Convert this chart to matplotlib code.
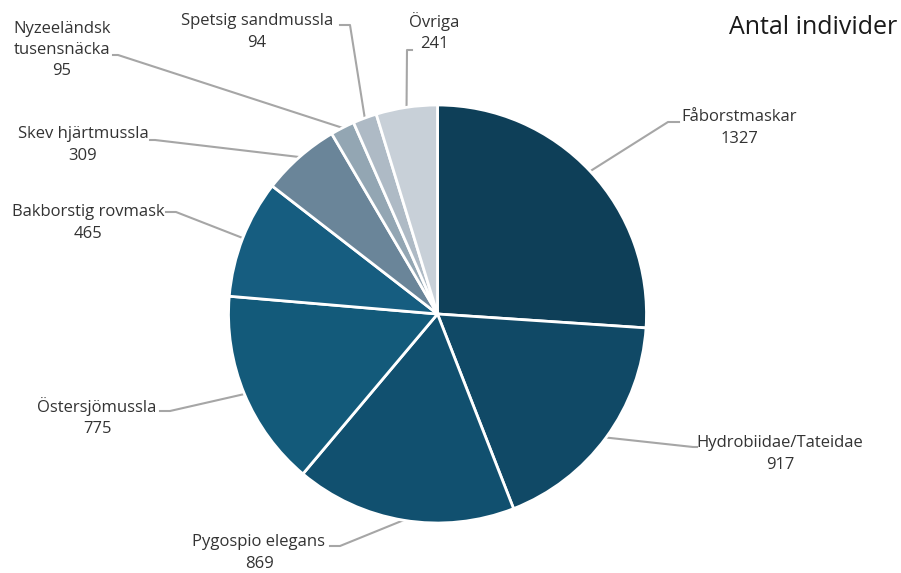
import numpy as np
import matplotlib.pyplot as plt

# data
species = ["Fåborstmaskar", "Hydrobiidae/Tateidae", "Pygospio elegans", "Östersjömussla",
           "Bakborstig rovmask", "Skev hjärtmussla", "Nyzeeländsk\ntusensnäcka",
           "Spetsig sandmussla", "Övriga"]
counts = [1327, 917, 869, 775, 465, 309, 95, 94, 241]
colors = ["#0E3F58", "#104966", "#11506F", "#135A7A", "#165D80",
          "#6A8599", "#93A6B3", "#AEBAC5", "#C8D0D8"]

W, H = 901, 573
cx, cy, R = 437.5, 314, 209

# label layout in pixels: text centre, elbow point, end point of leader
label_pos = [(739, 128), (780, 454), (259, 553), (97, 417), (88, 223),
             (83, 145), (62, 50), (257, 32), (434, 32)]
elbows = [(668, 122), (693, 447), (340, 546), (170, 411), (176, 212),
          (155, 140), (118, 55), (350, 25), (407, 50)]
ends = [(679, 122), (697, 447), (330, 546), (160, 411), (166, 212),
        (150, 140), (113, 55), (340, 25), (412, 50)]

plt.rcParams['font.family'] = ['Open Sans', 'DejaVu Sans']

fig = plt.figure(figsize=(W / 100, H / 100), dpi=100)
ax = fig.add_axes([0, 0, 1, 1])

def py(y):
    return H - y

wedges, _ = ax.pie(counts, colors=colors, startangle=90, counterclock=False,
                   center=(cx, py(cy)), radius=R,
                   wedgeprops=dict(edgecolor="white", linewidth=2))
ax.set_xlim(0, W)
ax.set_ylim(0, H)
ax.set_aspect("equal")
ax.axis("off")

for w, name, n, (tx, ty), (ex, ey), (fx, fy) in zip(wedges, species, counts, label_pos, elbows, ends):
    mid = np.deg2rad((w.theta1 + w.theta2) / 2)
    sx = cx + R * np.cos(mid)
    sy = py(cy) + R * np.sin(mid)
    ax.plot([sx, ex, fx], [sy, py(ey), py(fy)], color="#A6A6A6", lw=1.5, zorder=0)
    ax.text(tx, py(ty), f"{name}\n{n}", ha="center", va="center", fontsize=12,
            color="#333333", linespacing=1.45)

ax.text(897, py(27), "Antal individer", ha="right", va="center", fontsize=18, color="#1a1a1a")

fig.savefig("out.png", dpi=100)
